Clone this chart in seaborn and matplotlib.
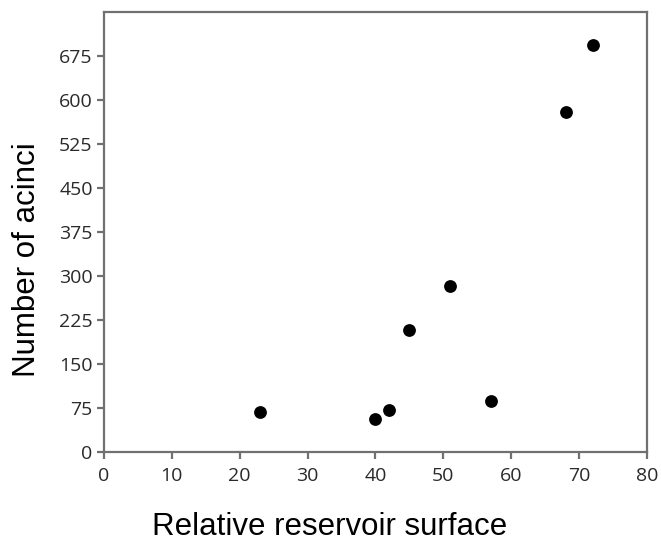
import matplotlib
matplotlib.use("Agg")
from matplotlib import pyplot as plt
import seaborn as sns
import pandas as pd

# values
surface = [23, 40, 42, 45, 51, 57, 68, 72]
acini = [68, 56, 72, 207, 282, 86, 580, 693]
x_ticks = [0, 10, 20, 30, 40, 50, 60, 70, 80]
y_ticks = [0, 75, 150, 225, 300, 375, 450, 525, 600, 675]

df = pd.DataFrame({'surface': surface, 'acini': acini})

sns.set_style('white')
plt.rcParams['font.family'] = ['Open Sans', 'DejaVu Sans']

f = plt.figure(figsize=(6.61, 5.43), dpi=100)
ax = f.add_axes([0.157, 0.168, 0.822, 0.810])
sns.scatterplot(data=df, x='surface', y='acini', ax=ax,
                color='black', s=85, edgecolor='black', linewidth=0)

ax.set_xlim(0, 80)
ax.set_ylim(0, 750)
ax.set_xticks(x_ticks)
ax.set_yticks(y_ticks)

grey = '#707070'
for sp in ax.spines.values():
    sp.set_color(grey)
    sp.set_linewidth(1.6)
ax.tick_params(axis='both', direction='out', length=5, width=1.6,
               color=grey, labelcolor='#2a2a2a', labelsize=14, pad=3,
               bottom=True, left=True)
ax.tick_params(axis='x', pad=6)

ax.set_xlabel('Relative reservoir surface', family='Liberation Sans',
              fontsize=22.5, color='black')
ax.set_ylabel('Number of acinci', family='Liberation Sans',
              fontsize=22.5, color='black')
# labels sit a bit off-centre in the original
ax.xaxis.set_label_coords(0.416, -0.137)
ax.yaxis.set_label_coords(-0.114, 0.436)

f.savefig('out.png', dpi=100)
